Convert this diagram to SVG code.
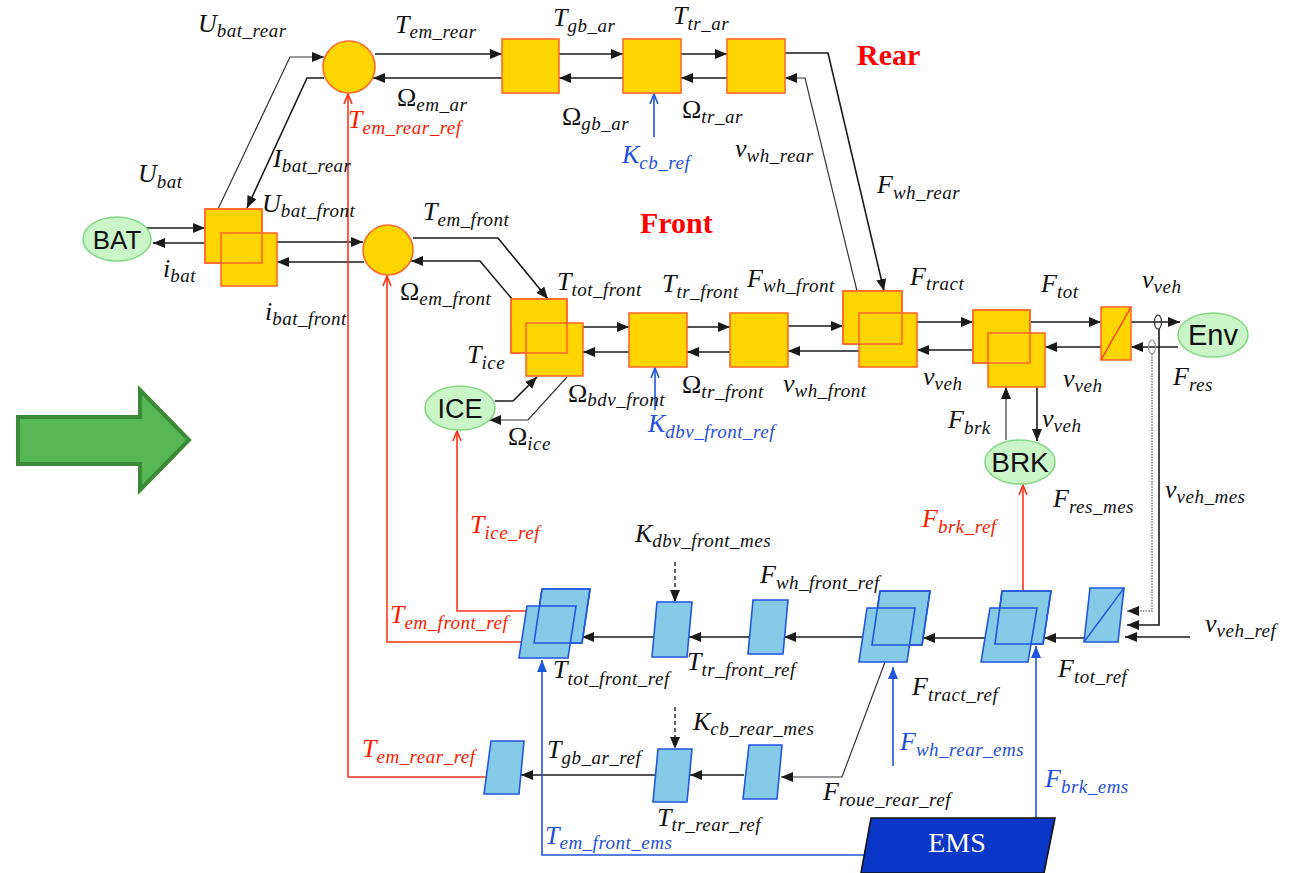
<svg xmlns="http://www.w3.org/2000/svg" width="1307" height="873" viewBox="0 0 1307 873">
<style>
.ln{fill:none;stroke:#1a1a1a;stroke-width:1.6}
.lt{fill:none;stroke:#333;stroke-width:1.2}
.lr{fill:none;stroke:#ff3319;stroke-width:1.6}
.lb{fill:none;stroke:#1f56e0;stroke-width:1.6}
.ld{fill:none;stroke:#1a1a1a;stroke-width:1.4;stroke-dasharray:4 3}
.lg{fill:none;stroke:#9a9a9a;stroke-width:2;stroke-dasharray:1.5 1.2}
.y{fill:#ffd500;stroke:#ff6a2a;stroke-width:1.6}
.yo{fill:none;stroke:#ff6a2a;stroke-width:1.6}
.b{fill:#85cbe8;stroke:#1f56e0;stroke-width:1.6}
.bo{fill:none;stroke:#1f56e0;stroke-width:1.6}
.g{fill:#c9f5c9;stroke:#86d886;stroke-width:1.6}
.nt{font-family:"Liberation Sans",Arial,sans-serif;fill:#111;text-anchor:middle}
.v{font-family:"Liberation Serif","Times New Roman",serif;font-style:italic;font-size:26px;fill:#111}
.v .s{font-size:19px;letter-spacing:0.5px}
.v .o{font-style:normal}
.red{fill:#ff1a00}
.blu{fill:#1f4fe0}
.ttl{font-family:"Liberation Serif","Times New Roman",serif;font-weight:bold;font-size:30px;fill:#ff0000}
</style>
<defs>
<marker id="ak" viewBox="0 0 12 10" refX="12" refY="5" markerWidth="12" markerHeight="10" markerUnits="userSpaceOnUse" orient="auto"><path d="M0,0 L12,5 L0,10 z" fill="#1a1a1a"/></marker>
<marker id="abf" viewBox="0 0 12 10" refX="12" refY="5" markerWidth="12" markerHeight="10" markerUnits="userSpaceOnUse" orient="auto"><path d="M0,0 L12,5 L0,10 z" fill="#1f56e0"/></marker>
<marker id="aro" viewBox="0 0 12 10" refX="11" refY="5" markerWidth="12" markerHeight="10" markerUnits="userSpaceOnUse" orient="auto"><path d="M1,1 L11,5 L1,9" fill="none" stroke="#ff3319" stroke-width="1.6"/></marker>
<marker id="abo" viewBox="0 0 12 10" refX="11" refY="5" markerWidth="12" markerHeight="10" markerUnits="userSpaceOnUse" orient="auto"><path d="M1,1 L11,5 L1,9" fill="none" stroke="#1f56e0" stroke-width="1.6"/></marker>
</defs>
<rect width="1307" height="873" fill="#ffffff"/>

<g id="green-arrow"><polygon points="18,417 140,417 140,390 189,440 140,490 140,464 18,464" fill="#58b755" stroke="#3b8a36" stroke-width="4"/></g>

<g id="connectors">
<path class="ln" d="M147,228 L205,228" marker-end="url(#ak)"/>
<path class="ln" d="M205,243 L153,243" marker-end="url(#ak)"/>
<path class="lt" d="M218,209 L290,57 L324,57" marker-end="url(#ak)"/>
<path class="ln" d="M324,78 L307,78 L247,208" marker-end="url(#ak)"/>
<path class="ln" d="M277,242 L363,242" marker-end="url(#ak)"/>
<path class="ln" d="M364,262 L277,262" marker-end="url(#ak)"/>
<path class="ln" d="M375,54 L502,54" marker-end="url(#ak)"/>
<path class="ln" d="M502,78 L373,78" marker-end="url(#ak)"/>
<path class="ln" d="M559,54 L623,54" marker-end="url(#ak)"/>
<path class="ln" d="M623,78 L559,78" marker-end="url(#ak)"/>
<path class="ln" d="M681,54 L727,54" marker-end="url(#ak)"/>
<path class="ln" d="M727,78 L681,78" marker-end="url(#ak)"/>
<path class="ln" d="M785,53 L828,53 L884,291" marker-end="url(#ak)"/>
<path class="lt" d="M857,291 L805,78 L785,78" marker-end="url(#ak)"/>
<path class="ln" d="M413,238 L498,238 L548,299" marker-end="url(#ak)"/>
<path class="ln" d="M512,299 L480,261 L411,261" marker-end="url(#ak)"/>
<path class="ln" d="M583,327 L629,327" marker-end="url(#ak)"/>
<path class="ln" d="M629,352 L583,352" marker-end="url(#ak)"/>
<path class="ln" d="M687,327 L730,327" marker-end="url(#ak)"/>
<path class="ln" d="M730,352 L687,352" marker-end="url(#ak)"/>
<path class="ln" d="M788,326 L843,326" marker-end="url(#ak)"/>
<path class="ln" d="M859,351 L788,351" marker-end="url(#ak)"/>
<path class="ln" d="M917,322 L973,322" marker-end="url(#ak)"/>
<path class="ln" d="M973,350 L917,350" marker-end="url(#ak)"/>
<path class="ln" d="M1030,322 L1101,322" marker-end="url(#ak)"/>
<path class="ln" d="M1101,347 L1045,347" marker-end="url(#ak)"/>
<path class="ln" d="M1131,322 L1180,322" marker-end="url(#ak)"/>
<path class="ln" d="M1178,347 L1131,347" marker-end="url(#ak)"/>
<path class="ln" d="M1037,387 L1037,441" marker-end="url(#ak)"/>
<path class="lt" d="M1006,440 L1006,387" marker-end="url(#ak)"/>
<path class="ln" d="M495,401 L513,401 L537,377" marker-end="url(#ak)"/>
<path class="lt" d="M567,377 L528,420 L489,420" marker-end="url(#ak)"/>
<ellipse cx="1158" cy="322" rx="3.5" ry="7" fill="none" stroke="#333" stroke-width="1.2"/>
<ellipse cx="1152" cy="347" rx="3.5" ry="7" fill="none" stroke="#999" stroke-width="1.2"/>
<path class="ln" d="M1159,329 L1159,625 L1127,625" marker-end="url(#ak)"/>
<path class="lg" d="M1152,354 L1152,611 L1127,611"/>
<path d="M1139,606 L1127,611 L1139,616 z" fill="#1a1a1a"/>
<path class="ln" d="M1190,637 L1125,637" marker-end="url(#ak)"/>
<path class="ln" d="M1084,638 L1044,638" marker-end="url(#ak)"/>
<path class="ln" d="M985,638 L923,638" marker-end="url(#ak)"/>
<path class="ln" d="M866,637 L784,637" marker-end="url(#ak)"/>
<path class="ln" d="M749,637 L689,637" marker-end="url(#ak)"/>
<path class="ln" d="M654,637 L582,637" marker-end="url(#ak)"/>
<path class="ld" d="M675,562 L675,602" marker-end="url(#ak)"/>
<path class="lt" d="M885,662 L842,777 L781,777" marker-end="url(#ak)"/>
<path class="ln" d="M744,775 L690,775" marker-end="url(#ak)"/>
<path class="ln" d="M655,775 L521,775" marker-end="url(#ak)"/>
<path class="ld" d="M675,707 L675,749" marker-end="url(#ak)"/>
<path class="lr" d="M487,777 L348,777 L348,94" marker-end="url(#aro)"/>
<path class="lr" d="M521,642 L387,642 L387,276" marker-end="url(#aro)"/>
<path class="lr" d="M528,611 L457,611 L457,431" marker-end="url(#aro)"/>
<path class="lr" d="M1023,591 L1023,485" marker-end="url(#aro)"/>
<path class="lb" d="M654,137 L654,94" marker-end="url(#abo)"/>
<path class="lb" d="M655,410 L655,368" marker-end="url(#abo)"/>
<path class="lb" d="M866,855 L542,855 L542,660" marker-end="url(#abf)"/>
<path class="lb" d="M893,766 L893,667" marker-end="url(#abf)"/>
<path class="lb" d="M1036,818 L1036,646" marker-end="url(#abf)"/>
</g>

<g id="bat"><ellipse class="g" cx="117" cy="239" rx="34" ry="22"/><text class="nt" x="117" y="249" font-size="26">BAT</text></g>
<g id="bat-coupling"><rect class="y" x="205" y="209" width="57" height="54"/><rect class="y" x="221" y="233" width="56" height="53"/><rect class="yo" x="205" y="209" width="57" height="54"/></g>
<g id="em-rear"><circle class="y" cx="349" cy="67" r="26"/></g>
<g id="em-front"><circle class="y" cx="388" cy="250" r="25"/></g>
<g id="block-a"><rect class="y" x="502" y="39" width="57" height="54"/></g>
<g id="block-b"><rect class="y" x="623" y="39" width="58" height="54"/></g>
<g id="block-c"><rect class="y" x="727" y="39" width="58" height="54"/></g>
<g id="front-sum"><rect class="y" x="511" y="299" width="56" height="54"/><rect class="y" x="526" y="323" width="57" height="53"/><rect class="yo" x="511" y="299" width="56" height="54"/></g>
<g id="block-d"><rect class="y" x="629" y="313" width="58" height="54"/></g>
<g id="block-e"><rect class="y" x="730" y="313" width="58" height="54"/></g>
<g id="ftract-coupling"><rect class="y" x="843" y="291" width="59" height="53"/><rect class="y" x="859" y="313" width="58" height="54"/><rect class="yo" x="843" y="291" width="59" height="53"/></g>
<g id="ftot-coupling"><rect class="y" x="973" y="310" width="57" height="53"/><rect class="y" x="988" y="333" width="57" height="54"/><rect class="yo" x="973" y="310" width="57" height="53"/></g>
<g id="vehicle"><rect class="y" x="1101" y="307" width="30" height="53"/><line x1="1101" y1="360" x2="1131" y2="307" stroke="#ff3319" stroke-width="1.4"/></g>
<g id="env"><ellipse class="g" cx="1213" cy="335" rx="35" ry="22"/><text class="nt" x="1213" y="345" font-size="29">Env</text></g>
<g id="ice"><ellipse class="g" cx="460" cy="408" rx="35" ry="22"/><text class="nt" x="460" y="418" font-size="27">ICE</text></g>
<g id="brk"><ellipse class="g" cx="1020" cy="462" rx="35" ry="22"/><text class="nt" x="1020" y="472" font-size="28">BRK</text></g>

<g id="ctrl-ttot-front"><polygon class="b" points="542,589 590,589 582,643 534,643"/><polygon class="b" points="527,606 576,606 568,658 519,658"/><polygon class="bo" points="542,589 590,589 582,643 534,643"/></g>
<g id="ctrl-kdbv"><polygon class="b" points="657,602 692,602 687,657 652,657"/></g>
<g id="ctrl-fwh-front"><polygon class="b" points="753,600 788,600 783,654 748,654"/></g>
<g id="ctrl-ftract"><polygon class="b" points="880,591 930,591 922,645 872,645"/><polygon class="b" points="867,608 915,608 907,662 859,662"/><polygon class="bo" points="880,591 930,591 922,645 872,645"/></g>
<g id="ctrl-ftot"><polygon class="b" points="1002,591 1051,591 1043,644 995,644"/><polygon class="b" points="990,608 1037,608 1028,662 981,662"/><polygon class="bo" points="1002,591 1051,591 1043,644 995,644"/></g>
<g id="ctrl-vehicle"><polygon class="b" points="1090,588 1124,588 1118,642 1084,642"/><line x1="1084" y1="642" x2="1124" y2="588" stroke="#1f56e0" stroke-width="1.4"/></g>
<g id="ctrl-em-rear"><polygon class="b" points="491,741 524,741 519,794 484,794"/></g>
<g id="ctrl-kcb"><polygon class="b" points="658,749 692,749 687,802 653,802"/></g>
<g id="ctrl-roue"><polygon class="b" points="749,745 782,745 777,799 743,799"/></g>
<g id="ems"><polygon points="871,818 1055,818 1044,873 861,873" fill="#0a37c8" stroke="#111" stroke-width="1.6"/><text x="957" y="852" font-family="Liberation Serif,serif" font-size="28" fill="#ffffff" text-anchor="middle">EMS</text></g>

<g id="titles"><text class="ttl" x="857" y="65">Rear</text><text class="ttl" x="640" y="233">Front</text></g>

<g id="labels">
<text class="v" x="198" y="32">U<tspan class="s" dy="5">bat_rear</tspan></text>
<text class="v" x="395" y="33">T<tspan class="s" dy="5">em_rear</tspan></text>
<text class="v" x="397" y="106"><tspan class="o">Ω</tspan><tspan class="s" dy="5">em_ar</tspan></text>
<text class="v" x="553" y="26">T<tspan class="s" dy="6">gb_ar</tspan></text>
<text class="v" x="673" y="24">T<tspan class="s" dy="6">tr_ar</tspan></text>
<text class="v" x="562" y="125"><tspan class="o">Ω</tspan><tspan class="s" dy="5">gb_ar</tspan></text>
<text class="v" x="682" y="118"><tspan class="o">Ω</tspan><tspan class="s" dy="5">tr_ar</tspan></text>
<text class="v" x="735" y="157">v<tspan class="s" dy="5">wh_rear</tspan></text>
<text class="v" x="877" y="193">F<tspan class="s" dy="6">wh_rear</tspan></text>
<text class="v" x="138" y="182">U<tspan class="s" dy="6">bat</tspan></text>
<text class="v" x="273" y="167">I<tspan class="s" dy="5">bat_rear</tspan></text>
<text class="v" x="262" y="212">U<tspan class="s" dy="5">bat_front</tspan></text>
<text class="v" x="423" y="220">T<tspan class="s" dy="6">em_front</tspan></text>
<text class="v" x="163" y="277">i<tspan class="s" dy="5">bat</tspan></text>
<text class="v" x="265" y="320">i<tspan class="s" dy="5">bat_front</tspan></text>
<text class="v" x="400" y="300"><tspan class="o">Ω</tspan><tspan class="s" dy="5">em_front</tspan></text>
<text class="v" x="557" y="290">T<tspan class="s" dy="6">tot_front</tspan></text>
<text class="v" x="662" y="292">T<tspan class="s" dy="6">tr_front</tspan></text>
<text class="v" x="747" y="287">F<tspan class="s" dy="5">wh_front</tspan></text>
<text class="v" x="910" y="285">F<tspan class="s" dy="5">tract</tspan></text>
<text class="v" x="1041" y="292">F<tspan class="s" dy="6">tot</tspan></text>
<text class="v" x="1142" y="288">v<tspan class="s" dy="5">veh</tspan></text>
<text class="v" x="467" y="363">T<tspan class="s" dy="6">ice</tspan></text>
<text class="v" x="568" y="402" font-size="20"><tspan class="o">Ω</tspan><tspan class="s" dy="4" font-size="15">bdv_front</tspan></text>
<text class="v" x="508" y="445"><tspan class="o">Ω</tspan><tspan class="s" dy="5">ice</tspan></text>
<text class="v" x="682" y="393"><tspan class="o">Ω</tspan><tspan class="s" dy="5">tr_front</tspan></text>
<text class="v" x="783" y="392">v<tspan class="s" dy="5">wh_front</tspan></text>
<text class="v" x="923" y="385">v<tspan class="s" dy="5">veh</tspan></text>
<text class="v" x="1063" y="387">v<tspan class="s" dy="5">veh</tspan></text>
<text class="v" x="1173" y="385">F<tspan class="s" dy="6">res</tspan></text>
<text class="v" x="948" y="428">F<tspan class="s" dy="6">brk</tspan></text>
<text class="v" x="1042" y="427">v<tspan class="s" dy="5">veh</tspan></text>
<text class="v" x="1053" y="507">F<tspan class="s" dy="6">res_mes</tspan></text>
<text class="v" x="1165" y="498">v<tspan class="s" dy="5">veh_mes</tspan></text>
<text class="v" x="635" y="542">K<tspan class="s" dy="5">dbv_front_mes</tspan></text>
<text class="v" x="760" y="583">F<tspan class="s" dy="6">wh_front_ref</tspan></text>
<text class="v" x="553" y="678">T<tspan class="s" dy="7">tot_front_ref</tspan></text>
<text class="v" x="687" y="670">T<tspan class="s" dy="6">tr_front_ref</tspan></text>
<text class="v" x="912" y="695">F<tspan class="s" dy="6">tract_ref</tspan></text>
<text class="v" x="1058" y="677">F<tspan class="s" dy="6">tot_ref</tspan></text>
<text class="v" x="1205" y="632">v<tspan class="s" dy="5">veh_ref</tspan></text>
<text class="v" x="547" y="758">T<tspan class="s" dy="6">gb_ar_ref</tspan></text>
<text class="v" x="693" y="730">K<tspan class="s" dy="5">cb_rear_mes</tspan></text>
<text class="v" x="657" y="826">T<tspan class="s" dy="5">tr_rear_ref</tspan></text>
<text class="v red" x="348" y="128">T<tspan class="s" dy="6">em_rear_ref</tspan></text>
<text class="v red" x="390" y="623">T<tspan class="s" dy="6">em_front_ref</tspan></text>
<text class="v red" x="470" y="533">T<tspan class="s" dy="6">ice_ref</tspan></text>
<text class="v red" x="922" y="527">F<tspan class="s" dy="6">brk_ref</tspan></text>
<text class="v red" x="362" y="757">T<tspan class="s" dy="6">em_rear_ref</tspan></text>
<text class="v blu" x="622" y="163">K<tspan class="s" dy="6">cb_ref</tspan></text>
<text class="v blu" x="648" y="432">K<tspan class="s" dy="6">dbv_front_ref</tspan></text>
<text class="v blu" x="545" y="844">T<tspan class="s" dy="5" font-size="17" letter-spacing="0">em_front_ems</tspan></text>
<text class="v blu" x="900" y="750">F<tspan class="s" dy="6">wh_rear_ems</tspan></text>
<text class="v blu" x="1045" y="787">F<tspan class="s" dy="6">brk_ems</tspan></text>
<text class="v" x="823" y="800">F<tspan class="s" dy="6">roue_rear_ref</tspan></text>
</g>
</svg>
